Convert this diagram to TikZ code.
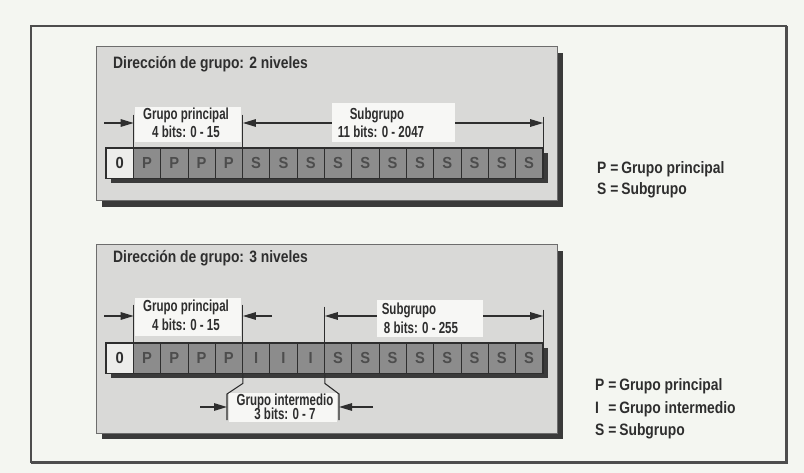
\documentclass[tikz,border=0pt]{standalone}
\usepackage{fontspec}
\setmainfont{Liberation Sans Bold}[FakeStretch=0.72]
\newfontfamily\titlefont{Liberation Sans Bold}[FakeStretch=0.84]
\newfontfamily\legendfont{Liberation Sans Bold}[FakeStretch=0.84]
\newfontfamily\cellfont{Liberation Sans Bold}[FakeStretch=0.92]
\usetikzlibrary{arrows.meta,calc}

\definecolor{paper}{HTML}{F4F6F1}
\definecolor{panel}{HTML}{D9D9D7}
\definecolor{ink}{HTML}{2E2E2E}
\definecolor{cellgray}{HTML}{8C8C8C}
\definecolor{celltext}{HTML}{4D4D4D}
\definecolor{zerocell}{HTML}{EDEDEB}
\definecolor{labelbg}{HTML}{F7F7F5}
\definecolor{shadowgray}{HTML}{3A3A3A}

\tikzset{
  arr/.style={draw=ink, line width=1.3pt, -{Triangle[length=13pt,width=7.5pt]}},
  tickline/.style={draw=ink, line width=1.1pt},
  bitcell/.style={draw=ink, line width=0.8pt, fill=cellgray, minimum width=27.3pt,
    minimum height=30pt, inner sep=0pt, text=celltext, font=\cellfont\fontsize{16}{16}\selectfont},
  zerobit/.style={bitcell, fill=zerocell, text=ink},
  lblbox/.style={fill=labelbg, inner sep=0pt},
  lbltext/.style={anchor=base, inner sep=0pt, text=ink, font=\fontsize{16}{16}\selectfont},
  titletext/.style={anchor=base west, inner sep=0pt, text=ink, font=\titlefont\fontsize{16.5}{16.5}\selectfont},
  legend/.style={anchor=base west, inner sep=0pt, text=ink, font=\legendfont\fontsize{16.5}{16.5}\selectfont},
  panelbox/.style={fill=panel, draw=ink!70, line width=1pt},
}
\newcommand{\legkey}[1]{\makebox[10.5pt][l]{#1}\,=\,}

\begin{document}
\begin{tikzpicture}[x=1pt,y=-1pt]
\useasboundingbox (0,0) rectangle (804,473);
\fill[paper] (0,0) rectangle (804,473);

% outer frame
\draw[ink!85, line width=1.8pt] (31,26) rectangle (786,462);
\draw[ink!85, line width=3pt] (786,26) -- (786,462) -- (31,462);

% ---------- two-level panel ----------
\fill[shadowgray] (102,53) rectangle (563,207);
\draw[panelbox] (96,47) rectangle (557,201);
\node[titletext] (title1) at (113,69) {Dirección de grupo: 2 niveles};

\fill[shadowgray] (111,153) rectangle (548,183);
\node[zerobit] (a0) at (119.65,163) {0};
\foreach \i in {1,...,4} \node[bitcell] (a\i) at ({119.65+27.3*\i},163) {P};
\foreach \i in {5,...,15} \node[bitcell] (a\i) at ({119.65+27.3*\i},163) {S};
\draw[ink, line width=1.6pt] (a0.north west) rectangle (a15.south east);

\coordinate (ay) at (0,123);
\coordinate (at1) at ($(a0.north east)+(0,-33)$);
\coordinate (at2) at ($(a4.north east)+(0,-33)$);
\coordinate (at3) at ($(a15.north east)+(0,-31)$);
\draw[tickline] (at1) -- (a0.north east);
\draw[tickline] (at2) -- (a4.north east);
\draw[tickline] (at3) -- (a15.north east);

\node[lblbox, minimum width=106pt, minimum height=35pt] (gp1) at (188,124.5) {};
\node[lblbox, minimum width=123pt, minimum height=39pt] (sg1) at (393.5,122.5) {};
\node[lbltext] (gp1a) at (186,120) {Grupo principal};
\node[lbltext] (gp1b) at (186,137.5) {4 bits: 0 - 15};
\node[lbltext] (sg1a) at (377,120) {Subgrupo};
\node[lbltext] (sg1b) at (381,137.5) {11 bits: 0 - 2047};

\coordinate (as) at (104,123);
\draw[arr] (as) -- (at1 |- ay);
\draw[arr] (sg1.west |- ay) -- (at2 |- ay);
\draw[arr] (sg1.east |- ay) -- (at3 |- ay);

% legend
\node[legend] (lp1) at (597,174) {\legkey{P}Grupo principal};
\node[legend] (ls1) at (597,195) {\legkey{S}Subgrupo};

% ---------- three-level panel ----------
\fill[shadowgray] (102,251) rectangle (563,439);
\draw[panelbox] (96,245) rectangle (557,433);
\node[titletext] (title2) at (113,263) {Dirección de grupo: 3 niveles};

\fill[shadowgray] (111,348) rectangle (548,378);
\node[zerobit] (b0) at (119.65,358) {0};
\foreach \i in {1,...,4} \node[bitcell] (b\i) at ({119.65+27.3*\i},358) {P};
\foreach \i in {5,...,7} \node[bitcell] (b\i) at ({119.65+27.3*\i},358) {I};
\foreach \i in {8,...,15} \node[bitcell] (b\i) at ({119.65+27.3*\i},358) {S};
\draw[ink, line width=1.6pt] (b0.north west) rectangle (b15.south east);

\coordinate (by) at (0,316);
\coordinate (bt1) at ($(b0.north east)+(0,-38)$);
\coordinate (bt2) at ($(b4.north east)+(0,-38)$);
\coordinate (bt3) at ($(b7.north east)+(0,-36)$);
\coordinate (bt4) at ($(b15.north east)+(0,-33)$);
\draw[tickline] (bt1) -- (b0.north east);
\draw[tickline] (bt2) -- (b4.north east);
\draw[tickline] (bt3) -- (b7.north east);
\draw[tickline] (bt4) -- (b15.north east);

\node[lblbox, minimum width=106pt, minimum height=38pt] (gp2) at (188,317) {};
\node[lblbox, minimum width=106pt, minimum height=37pt] (sg2) at (430,318.5) {};
\node[lbltext] (gp2a) at (186,312) {Grupo principal};
\node[lbltext] (gp2b) at (186,330.5) {4 bits: 0 - 15};
\node[lbltext] (sg2a) at (409,315) {Subgrupo};
\node[lbltext] (sg2b) at (421,333.5) {8 bits: 0 - 255};

\coordinate (bs) at (104,316);
\coordinate (bm) at (272,316);
\draw[arr] (bs) -- (bt1 |- by);
\draw[arr] (bm) -- (bt2 |- by);
\draw[arr] (sg2.west |- by) -- (bt3 |- by);
\draw[arr] (sg2.east |- by) -- (bt4 |- by);

% bracket under the intermediate group
\coordinate (gl) at (227,420);
\coordinate (gr) at (339,420);
\draw[tickline] (b4.south east) -- ++(0,10) -- ($(gl)+(0,-26)$) -- (gl);
\draw[tickline] (b7.south east) -- ++(0,10) -- ($(gr)+(0,-26)$) -- (gr);
\node[lblbox, minimum width=108pt, minimum height=29pt] (gi) at (283,407.5) {};
\node[lbltext] (gia) at (285,405) {Grupo intermedio};
\node[lbltext] (gib) at (285,419.5) {3 bits: 0 - 7};
\coordinate (gy) at (0,407);
\coordinate (gla) at (200,407);
\coordinate (gra) at (373,407);
\draw[arr] (gla) -- (gl |- gy);
\draw[arr] (gra) -- (gr |- gy);

% legend
\node[legend] (lp2) at (595,390) {\legkey{P}Grupo principal};
\node[legend] (li2) at (595,413) {\legkey{I}Grupo intermedio};
\node[legend] (ls2) at (595,435) {\legkey{S}Subgrupo};
\end{tikzpicture}
\end{document}
